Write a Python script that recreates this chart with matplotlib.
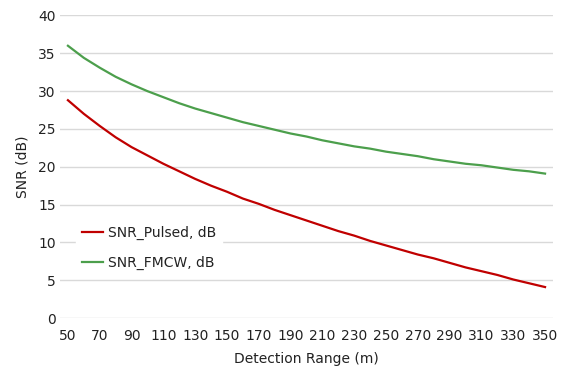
import matplotlib.pyplot as plt

# detection range (m), one point every 10 m
ranges = [50, 60, 70, 80, 90, 100, 110, 120, 130, 140, 150, 160, 170, 180, 190, 200,
          210, 220, 230, 240, 250, 260, 270, 280, 290, 300, 310, 320, 330, 340, 350]

snr_pulsed = [28.8, 27.0, 25.4, 23.9, 22.6, 21.5, 20.4, 19.4, 18.4, 17.5, 16.7, 15.8,
              15.1, 14.3, 13.6, 12.9, 12.2, 11.5, 10.9, 10.2, 9.6, 9.0, 8.4, 7.9, 7.3,
              6.7, 6.2, 5.7, 5.1, 4.6, 4.1]

snr_fmcw = [36.0, 34.4, 33.1, 31.9, 30.9, 30.0, 29.2, 28.4, 27.7, 27.1, 26.5, 25.9,
            25.4, 24.9, 24.4, 24.0, 23.5, 23.1, 22.7, 22.4, 22.0, 21.7, 21.4, 21.0,
            20.7, 20.4, 20.2, 19.9, 19.6, 19.4, 19.1]

xtick_vals = [50, 70, 90, 110, 130, 150, 170, 190, 210, 230, 250, 270, 290, 310, 330, 350]
ytick_vals = [0, 5, 10, 15, 20, 25, 30, 35, 40]

plt.rcParams['font.family'] = ['DejaVu Sans']
text_col = '#222222'

fig = plt.figure(figsize=(5.68, 3.69), dpi=100)
ax = fig.add_axes([0.1056, 0.138, 0.868, 0.82])

ax.plot(ranges, snr_pulsed, color='#C00000', lw=1.6, label='SNR_Pulsed, dB')
ax.plot(ranges, snr_fmcw, color='#4C9F4C', lw=1.6, label='SNR_FMCW, dB')

ax.set_xlim(45, 355)
ax.set_ylim(0, 40)
ax.set_xticks(xtick_vals)
ax.set_yticks(ytick_vals)
ax.tick_params(axis='both', length=0, labelsize=10, colors=text_col)
ax.tick_params(axis='x', pad=8)
ax.tick_params(axis='y', pad=3)

# only horizontal grid lines, no frame
ax.grid(axis='y', color='#D9D9D9', lw=1.0)
ax.set_axisbelow(True)
for s in ax.spines.values():
    s.set_visible(False)

ax.set_xlabel('Detection Range (m)', fontsize=10, color=text_col, labelpad=6)
ax.set_ylabel('SNR (dB)', fontsize=10, color=text_col, labelpad=6)

leg = ax.legend(loc='center left', bbox_to_anchor=(0.033, 0.232), frameon=True,
                fontsize=10, handlelength=1.5, handletextpad=0.4, labelspacing=1.1,
                borderpad=0.4, borderaxespad=0)
leg.get_frame().set_facecolor('white')
leg.get_frame().set_edgecolor('white')
leg.get_frame().set_alpha(1)
for t in leg.get_texts():
    t.set_color(text_col)

plt.savefig('out.png', dpi=100)
